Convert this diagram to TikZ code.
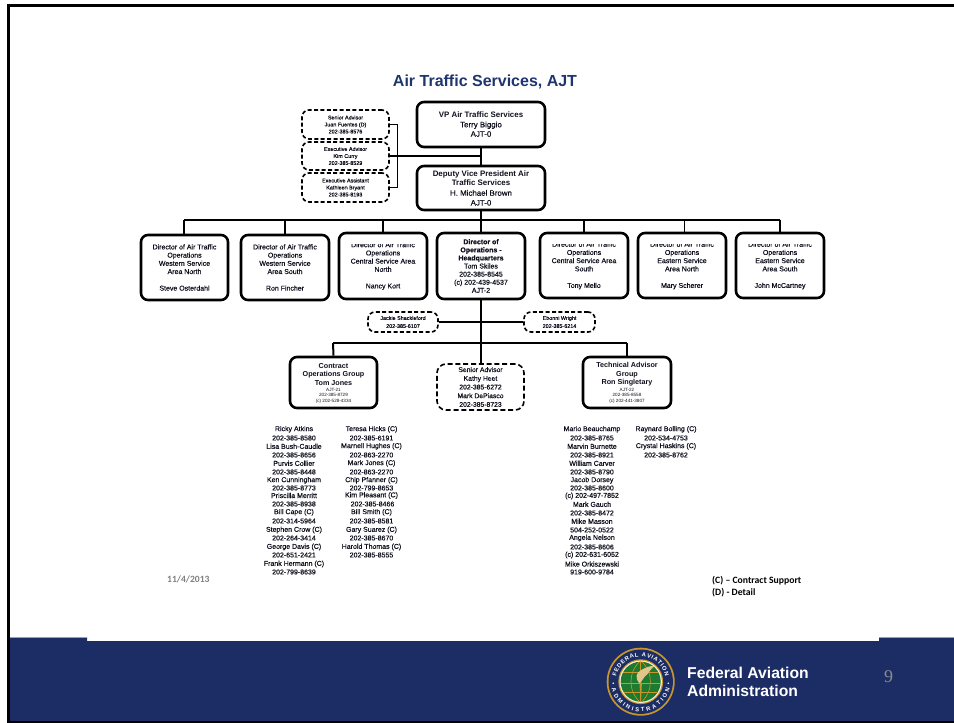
\documentclass[tikz,border=0pt]{standalone}
\usepackage{fontspec}
\usetikzlibrary{decorations.text}
\setmainfont{Liberation Sans}
\newfontfamily\fakeb[FakeBold=0.4]{Liberation Sans}
\newfontfamily\calib{Carlito}
\newfontfamily\tms{Liberation Serif}
\definecolor{faanavy}{HTML}{1C2D66}
\definecolor{titlenavy}{HTML}{1F3570}
\definecolor{faagold}{HTML}{C9962B}
\definecolor{faagreen}{HTML}{1E7A2E}
\definecolor{inktext}{HTML}{10101E}
\newcommand{\sz}[2]{\fontsize{#1}{#2}\selectfont}
\tikzset{
  x=1pt,y=-1pt,
  solidbox/.style={draw=black,line width=2.6pt,rounded corners=7pt,fill=white,inner sep=0pt,align=center,text=inktext,font=\fakeb\sz{7}{8.2}},
  dashbox/.style={draw=black,line width=1.6pt,dash pattern=on 4pt off 2.4pt,rounded corners=7pt,fill=white,inner sep=0pt,align=center,text=inktext,font=\fakeb\sz{5.4}{7}},
  link/.style={draw=black,line width=1.2pt},
  thick link/.style={draw=black,line width=2pt},
  listname/.style={inner sep=0pt,text=inktext,font=\fakeb\sz{7}{8},anchor=center},
  grouphead/.style={inner sep=0pt,align=center,text=inktext,font=\bfseries\sz{7.2}{8.5}},
  groupsmall/.style={inner sep=0pt,align=center,text=inktext,font=\mdseries\sz{4.6}{5.5}},
}
\newcommand{\bx}[7]{% name, style, x1, y1, x2, y2, text
  \pgfmathsetmacro{\cx}{(#3+#5)/2}\pgfmathsetmacro{\cy}{(#4+#6)/2}
  \pgfmathsetmacro{\bw}{#5-#3}\pgfmathsetmacro{\bh}{#6-#4}
  \node[#2,minimum width=\bw pt,minimum height=\bh pt] (#1) at (\cx,\cy) {#7};}
\newcommand{\li}[4]{\node[listname] (#1) at (#2,#3) {#4};}
\begin{document}
\begin{tikzpicture}
\useasboundingbox (0,0) rectangle (954,723);
\fill[white] (0,0) rectangle (954,723);
% footer band
\fill[faanavy] (10,637) -- (87,637) -- (87,641) -- (879,641) -- (879,637) -- (954,637) -- (954,721) -- (10,721) -- cycle;
\draw[draw=faanavy!45!white,line width=.7pt] (10,637) -- (87,637) (879,637) -- (954,637);
% frame
\draw[black,line width=3pt] (8.5,723) -- (8.5,5.5) -- (954,5.5);
\draw[black,line width=2.4pt] (7,722) -- (954,722);
% title
\node[inner sep=0pt,text=titlenavy,font=\bfseries\sz{16}{20}] (title) at (485,82) {Air Traffic Services, AJT};
% boxes
\bx{vp}{solidbox,font=\bfseries\sz{7.9}{9.4}}{417}{102}{545}{147}{\raisebox{-1pt}{VP Air Traffic Services}\\ \raisebox{-1pt}{\mdseries\fakeb Terry Biggio}\\ \raisebox{-1pt}{\mdseries\fakeb AJT-0}}
\bx{dep}{solidbox,font=\bfseries\sz{7.9}{9.8}}{417}{166}{545}{210}{Deputy Vice President Air\\ Traffic Services\\ {\mdseries\fakeb H. Michael Brown}\\ {\mdseries\fakeb AJT-0}}
\bx{sa}{dashbox}{302}{110}{389}{139}{Senior Advisor\\ Juan Fuentes (D)\\ 202-385-8576}
\bx{ea}{dashbox}{302}{142}{389}{170}{Executive Advisor\\ Kim Curry\\ 202-385-8529}
\bx{es}{dashbox}{302}{173}{389}{202}{Executive Assistant\\ Kathleen Bryant\\ 202-385-8193}
\coordinate (trunkA) at (481,156);
\draw[thick link] (vp) -- (dep);
\draw[link] (ea.east) -- (trunkA);
\draw[link,line width=1.5pt] (sa.east) -- (397.5,124.5) -- (397.5,187.5) -- (es.east);
% directors
\bx{d1}{solidbox}{141}{235}{228}{300}{Director of Air Traffic\\ Operations\\ Western Service\\ Area North\\[8.4pt] Steve Osterdahl}
\bx{d2}{solidbox}{241}{235}{329}{300}{Director of Air Traffic\\ Operations\\ Western Service\\ Area South\\[8.4pt] Ron Fincher}
\bx{d3}{solidbox}{339}{233}{427}{299}{Director of Air Traffic\\ Operations\\ Central Service Area\\ North\\[8.4pt] Nancy Kort}
\bx{d4}{solidbox,font=\fakeb\sz{7}{8.1}}{437}{233}{525}{299}{{\bfseries Director of}\\ {\bfseries Operations -}\\ {\bfseries Headquarters}\\ Tom Skiles\\ 202-385-8545\\ (c) 202-439-4537\\ AJT-2}
\bx{d5}{solidbox}{540}{233}{628}{298}{Director of Air Traffic\\ Operations\\ Central Service Area\\ South\\[8.4pt] Tony Mello}
\bx{d6}{solidbox}{638}{233}{726}{298}{Director of Air Traffic\\ Operations\\ Eastern Service\\ Area North\\[8.4pt] Mary Scherer}
\bx{d7}{solidbox}{736}{233}{824}{298}{Director of Air Traffic\\ Operations\\ Eastern Service\\ Area South\\[8.4pt] John McCartney}
% clipped first lines
\foreach \xa/\xb in {350/416,551/617,649/715,747/813}{\fill[white] (\xa,239) rectangle (\xb,243.6);}
% lower boxes
\bx{j}{dashbox,font=\fakeb\sz{5.4}{8}}{368}{312}{438}{332}{Jackie Shackleford\\ 202-385-6107}
\bx{e}{dashbox,font=\fakeb\sz{5.4}{8}}{524}{312}{595}{332}{Ebonni Wright\\ 202-385-6214}
\bx{cg}{solidbox}{290}{357}{377}{408}{}
\bx{tg}{solidbox}{583}{357}{671}{408}{}
\node[grouphead] (cgh) at (333.5,374.5) {Contract\\ Operations Group\\ Tom Jones};
\node[groupsmall] (cgs) at (333.5,395.5) {AJT-21\\ 202-385-8729\\ (c) 202-528-4334};
\node[grouphead] (tgh) at (627,374.5) {Technical Advisor\\ Group\\ Ron Singletary};
\node[groupsmall] (tgs) at (627,395.5) {AJT-22\\ 202-385-8558\\ (c) 202-441-3807};
\bx{sn}{dashbox,font=\fakeb\sz{6.8}{8.7},dash pattern=on 5pt off 2.8pt,rounded corners=9pt}{437}{364}{524}{410}{Senior Advisor\\ Kathy Heet\\ 202-385-6272\\ Mark DePiasco\\ 202-385-8723}
% connectors
\coordinate (h1) at (481,219.5);
\coordinate (hl) at (184,219.5);
\coordinate (hr) at (780,219.5);
\draw[thick link] (dep) -- (h1);
\draw[thick link] (hl) -- (hr);
\draw[thick link] (hl) -- (184,235);
\draw[thick link] (285,219.5) -- (285,235);
\draw[link] (383,219.5) -- (383,233);
\draw[thick link] (h1) -- (d4.north);
\draw[thick link] (584,219.5) -- (584,233);
\draw[link] (684.5,219.5) -- (684.5,233);
\draw[thick link] (hr) -- (780,233);
\draw[thick link] (d4.south) -- (sn.north -| d4.south);
\draw[thick link] (j.east) -- (e.west);
\coordinate (g1) at (333,343);
\coordinate (g2) at (627,343);
\draw[link] (g1) -- (g2);
\draw[thick link] (g1) -- (cg.north);
\draw[thick link] (g2) -- (tg.north);
% contract list
\li{a1}{294}{429.3}{Ricky Atkins}\li{a2}{294}{438}{202-385-8580}
\li{a3}{294}{446.3}{Lisa Bush-Caudle}\li{a4}{294}{455}{202-385-8656}
\li{a5}{294}{463.3}{Purvis Collier}\li{a6}{294}{472}{202-385-8448}
\li{a7}{294}{480.3}{Ken Cunningham}\li{a8}{294}{488}{202-385-8773}
\li{a9}{294}{495.5}{Priscilla Merritt}\li{a10}{294}{504}{202-385-8938}
\li{a11}{294}{512.3}{Bill Cape (C)}\li{a12}{294}{521}{202-314-5964}
\li{a13}{294}{530}{Stephen Crow (C)}\li{a14}{294}{538}{202-264-3414}
\li{a15}{294}{547}{George Davis (C)}\li{a16}{294}{555}{202-651-2421}
\li{a17}{294}{564}{Frank Hermann (C)}\li{a18}{294}{572}{202-799-8639}
\li{b1}{371.5}{429.3}{Teresa Hicks (C)}\li{b2}{371.5}{438}{202-385-6191}
\li{b3}{371.5}{446.3}{Marnell Hughes (C)}\li{b4}{371.5}{455}{202-863-2270}
\li{b5}{371.5}{463.3}{Mark Jones (C)}\li{b6}{371.5}{472}{202-863-2270}
\li{b7}{371.5}{480.3}{Chip Pfanner (C)}\li{b8}{371.5}{488}{202-799-8653}
\li{b9}{371.5}{495.5}{Kim Pleasant (C)}\li{b10}{372.5}{504}{202-385-8466}
\li{b11}{371.5}{512.3}{Bill Smith (C)}\li{b12}{371.5}{521}{202-385-8581}
\li{b13}{371.5}{530}{Gary Suarez (C)}\li{b14}{371.5}{538}{202-385-8670}
\li{b15}{371.5}{547}{Harold Thomas (C)}\li{b16}{371.5}{555}{202-385-8555}
% technical list
\li{c1}{592}{429.3}{Mario Beauchamp}\li{c2}{592}{438}{202-385-8765}
\li{c3}{592}{446.3}{Marvin Burnette}\li{c4}{592}{455}{202-385-8921}
\li{c5}{592}{463.3}{William Carver}\li{c6}{592}{472}{202-385-8790}
\li{c7}{592}{480.3}{Jacob Dorsey}\li{c8}{592}{488}{202-385-8600}
\li{c9}{592}{496}{(c) 202-497-7852}\li{c10}{592}{504.3}{Mark Gauch}
\li{c11}{592}{513}{202-385-8472}\li{c12}{592}{521.3}{Mike Masson}
\li{c13}{592}{530}{504-252-0522}\li{c14}{592}{538}{Angela Nelson}
\li{c15}{592}{547}{202-385-8606}\li{c16}{592}{555}{(c) 202-631-6052}
\li{c17}{592}{564}{Mike Orkiszewski}\li{c18}{592}{572}{919-600-9784}
\li{r1}{666}{429.3}{Raynard Bolling (C)}\li{r2}{666}{438}{202-534-4753}
\li{r3}{666}{446.3}{Crystal Haskins (C)}\li{r4}{666}{455}{202-385-8762}
% legend and date
\node[inner sep=0pt,anchor=west,text=black,font=\calib\bfseries\sz{9.7}{11}] (leg1) at (712,580.5) {(C) – Contract Support};
\node[inner sep=0pt,anchor=west,text=black,font=\calib\bfseries\sz{9.7}{11}] (leg2) at (712,592.5) {(D) - Detail};
\node[inner sep=0pt,anchor=west,text=black!50,font=\calib\bfseries\sz{9.6}{11}] (date) at (167,579.5) {11/4/2013};
% footer text
\node[inner sep=0pt,anchor=west,align=left,text=white,font=\bfseries\sz{15.7}{17.8}] (faa) at (687,682) {Federal Aviation\\ Administration};
\node[inner sep=0pt,text=black!45,font=\tms\sz{18}{20}] (pg) at (888.5,676.5) {9};
% seal
\begin{scope}[shift={(640.7,681.7)}]
  \fill[faagold] (0,0) circle (34);
  \fill[faanavy] (0,0) circle (32.2);
  \fill[faagold] (0,0) circle (22.4);
  \fill[white!85!faagold] (0,0) circle (21.2);
  \fill[faagreen] (0,0) circle (20);
  \begin{scope}
    \clip (0,0) circle (20);
    \draw[faagold,line width=.6pt] (-22,-9) -- (22,-9) (-22,2) -- (22,2) (-22,11) -- (22,11);
    \draw[faagold,line width=.6pt] (0,-22) -- (0,22);
    \draw[faagold,line width=.6pt] (0,-21) .. controls (-13,-10) and (-13,10) .. (0,21);
    \draw[faagold,line width=.6pt] (0,-21) .. controls (13,-10) and (13,10) .. (0,21);
  \end{scope}
  \fill[faagold!55!white] (-1,2) .. controls (-6,-4) and (-5,-9) .. (1,-12) .. controls (5,-14) and (9,-16) .. (14,-16) .. controls (9,-12) and (8,-8) .. (4,-5) .. controls (2,-3) and (1,0) .. (-1,2) -- cycle;
  \fill[faagold] (-1.2,1) -- (1.2,1) -- (0.4,18) -- (-0.4,18) -- cycle;
  \fill[white] (-27.5,1.5) circle (.9) (27.5,1.5) circle (.9);
  \path[decorate,decoration={text along path,text align={fit to path},text={|\bfseries\sz{5.8}{7}\color{white}|FEDERAL AVIATION}}] ({25*cos(192)},{25*sin(192)}) arc[start angle=192,end angle=348,radius=25];
  \path[decorate,decoration={text along path,text align={fit to path},text={|\bfseries\sz{5.8}{7}\color{white}|ADMINISTRATION}}] ({30*cos(166)},{30*sin(166)}) arc[start angle=166,end angle=14,radius=30];
\end{scope}
\end{tikzpicture}
\end{document}
